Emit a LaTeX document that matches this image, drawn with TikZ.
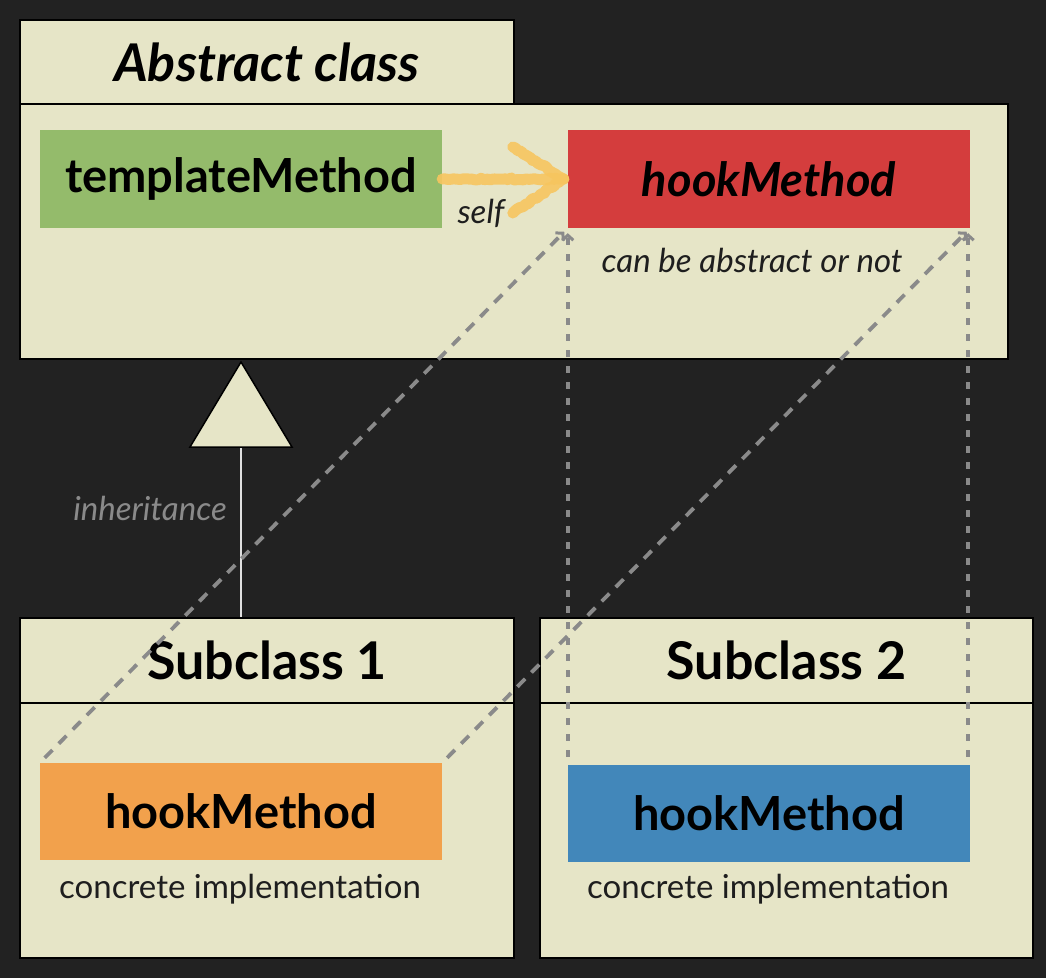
\documentclass[tikz,border=0pt]{standalone}
\usepackage{fontspec}
\setmainfont{Lato}
\usetikzlibrary{arrows.meta,calc,decorations.pathmorphing}
\definecolor{bgdark}{HTML}{222222}
\definecolor{cream}{HTML}{E6E5C7}
\definecolor{mgreen}{HTML}{94BB6B}
\definecolor{mred}{HTML}{D43D3D}
\definecolor{morange}{HTML}{F2A14C}
\definecolor{mblue}{HTML}{4287BA}
\definecolor{chalk}{HTML}{F7C55F}
\definecolor{dgray}{HTML}{8A8A8A}
\definecolor{txt}{HTML}{1E1E1E}
\tikzset{
  classbox/.style={draw=black, line width=2pt, fill=cream, inner sep=0pt, rectangle},
  headtext/.style={font=\fontsize{52}{56}\selectfont\bfseries, text=black},
  methodbox/.style={inner sep=0pt, rectangle, minimum width=402pt, font=\fontsize{47}{50}\selectfont\bfseries, text=black},
  note/.style={font=\fontsize{33}{36}\selectfont, text=txt, inner sep=0pt},
  dline/.style={draw=dgray, line width=3.8pt, dash pattern=on 11pt off 9pt},
  vline/.style={draw=dgray, line width=3.8pt, dash pattern=on 7pt off 9pt},
  tiphead/.style={-{Straight Barb[length=5pt,width=11pt,line width=3pt]}},
  chalkline/.style={draw=chalk, line width=11pt, line cap=round, line join=round, opacity=0.9,
    decorate, decoration={random steps, segment length=3pt, amplitude=1pt}}
}
\begin{document}
\begin{tikzpicture}[x=1pt,y=-1pt]
\fill[bgdark] (0,0) rectangle (1046,978);
\useasboundingbox (0,0) rectangle (1046,978);

% Abstract class
\node[classbox, minimum width=494pt, minimum height=84pt, headtext, font=\fontsize{52}{56}\selectfont\bfseries\itshape] (ah) at (267,62) {Abstract class};
\node[classbox, minimum width=988pt, minimum height=255pt] (ab) at (514,231.5) {};
\node[methodbox, fill=mgreen, minimum height=98pt] (tm) at (241,179) {templateMethod};
\node[methodbox, fill=mred, minimum height=98pt, font=\fontsize{47}{50}\selectfont\bfseries\itshape] (hk) at (769,179) {hookMethod};
\node[note, font=\fontsize{33}{36}\selectfont\itshape] (cab) at (752,260) {can be abstract or not};

% self arrow
\draw[chalkline] (tm.east) -- ($(hk.west)+(-4,0)$);
\draw[chalkline] ($(hk.west)+(-55,-32)$) -- ($(hk.west)+(-4,0)$) -- ($(hk.west)+(-55,34)$);
\node[note, font=\fontsize{33}{36}\selectfont\itshape] (self) at (481,213) {self};

% Subclass 1
\node[classbox, minimum width=494pt, minimum height=85pt, headtext] (s1h) at (267,660.5) {Subclass 1};
\node[classbox, minimum width=494pt, minimum height=255pt] (s1b) at (267,830.5) {};
\node[methodbox, fill=morange, minimum height=97pt] (o1) at (241,811.5) {hookMethod};
\node[note] (ci1) at (240,889) {concrete implementation};

% Subclass 2
\node[classbox, minimum width=493pt, minimum height=85pt, headtext] (s2h) at (786.5,660.5) {Subclass 2};
\node[classbox, minimum width=493pt, minimum height=255pt] (s2b) at (786.5,830.5) {};
\node[methodbox, fill=mblue, minimum height=97pt] (b2) at (769,813.5) {hookMethod};
\node[note] (ci2) at (768,889) {concrete implementation};

% inheritance
\coordinate (tritop) at (241,362);
\coordinate (tribase) at (241,447);
\draw[draw=white!88!black, line width=1.5pt] (tribase) -- (tribase |- s1h.north);
\draw[draw=black, fill=cream, line width=1.5pt, line join=miter] (tritop) -- ($(tribase)+(51,0)$) -- ($(tribase)+(-51,0)$) -- cycle;
\node[note, text=dgray, font=\fontsize{33}{36}\selectfont\itshape] (inh) at (150,508) {inheritance};

% dashed realisation lines
\draw[dline, tiphead, shorten <=7pt, shorten >=5pt] (o1.north west) -- (hk.south west);
\draw[dline, tiphead, shorten <=7pt, shorten >=5pt] (o1.north east) -- (hk.south east);
\draw[vline, tiphead, shorten <=8pt, shorten >=5pt] (b2.north west) -- (hk.south west);
\draw[vline, tiphead, shorten <=8pt, shorten >=5pt] ($(b2.north east)+(-2,0)$) -- ($(hk.south east)+(-2,0)$);
\end{tikzpicture}
\end{document}
